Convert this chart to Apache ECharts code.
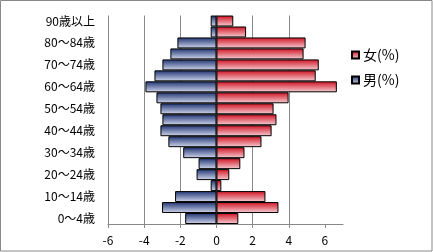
<!DOCTYPE html>
<html><head><meta charset="utf-8">
<script src="https://cdn.jsdelivr.net/npm/echarts@6/dist/echarts.min.js"></script>
<style>html,body{margin:0;padding:0;background:#fff}#c{width:433px;height:252px}</style>
</head><body><div id="c"></div>
<script>
const categories = ['0～4歳','5～9歳','10～14歳','15～19歳','20～24歳','25～29歳','30～34歳','35～39歳','40～44歳','45～49歳','50～54歳','55～59歳','60～64歳','65～69歳','70～74歳','75～79歳','80～84歳','85～89歳','90歳以上'];
const maleValues = [-1.73,-3.01,-2.29,-0.32,-1.10,-0.99,-1.84,-2.66,-3.10,-2.99,-3.10,-3.32,-3.93,-3.43,-2.99,-2.55,-2.16,-0.32,-0.32];
const femaleValues = [1.21,3.43,2.71,0.27,0.71,1.32,1.55,2.49,3.05,3.32,3.16,3.99,6.66,5.49,5.66,4.82,4.93,1.64,0.93];
const xTicks = [-6,-4,-2,0,2,4,6];
const seriesNames = ['女(%)','男(%)'];

const font = '"Noto Sans CJK JP", sans-serif';
const chart = echarts.init(document.getElementById('c'), null, {renderer:'canvas'});
const grad = (a,b)=>new echarts.graphic.LinearGradient(0,0,0,1,[{offset:0,color:a},{offset:1,color:b}]);
chart.setOption({
  animation:false,
  backgroundColor:'#fff',
  grid:{left:108,right:90,top:15.5,bottom:28,containLabel:false},
  legend:{
    orient:'vertical', left:346, top:43, itemWidth:7, itemHeight:7, itemGap:11,
    icon:'rect',
    textStyle:{fontFamily:font,fontSize:14,color:'#000',padding:[0,0,0,-1]},
    data:seriesNames
  },
  xAxis:{
    type:'value', min:-6, max:7, interval:2,
    axisLine:{show:true,lineStyle:{color:'#888',width:1}},
    axisTick:{show:true,length:4,inside:false,lineStyle:{color:'#888'},customValues:xTicks},
    axisLabel:{fontFamily:font,fontSize:12,color:'#000',margin:10,customValues:xTicks},
    splitLine:{show:true,showMaxLine:false,lineStyle:{color:'#888',width:1}}
  },
  yAxis:{
    type:'category', data:categories,
    axisLine:{show:false,onZero:false},
    axisTick:{show:false},
    axisLabel:{interval:1,fontFamily:font,fontSize:12,color:'#000',margin:13}
  },
  series:[
    {name:seriesNames[0],type:'bar',data:femaleValues,barCategoryGap:'0%',barGap:'-100%',
     itemStyle:{color:grad('#cf1020','#f6d0d6'),borderColor:'#000',borderWidth:1}},
    {name:seriesNames[1],type:'bar',data:maleValues,barCategoryGap:'0%',barGap:'-100%',
     itemStyle:{color:grad('#1d3270','#d3d9ee'),borderColor:'#000',borderWidth:1},
     markLine:{silent:true,symbol:'none',label:{show:false},lineStyle:{color:'#222',type:'solid',width:1},data:[{xAxis:0}]}}
  ],
  graphic:[{type:'rect',shape:{x:0.5,y:0.5,width:431.5,height:250.5},style:{fill:null,stroke:'#888',lineWidth:1},z:100}]
});
</script></body></html>
